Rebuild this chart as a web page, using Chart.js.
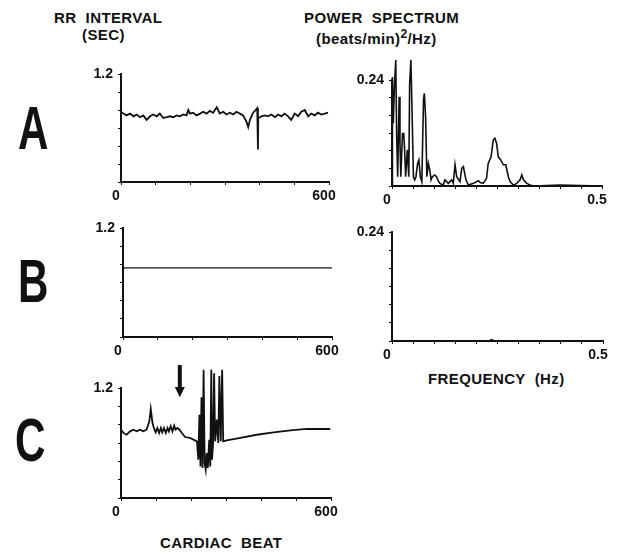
<!DOCTYPE html>
<html lang="en">
<head>
    <meta charset="UTF-8">
    <title>RR interval and power spectrum</title>
    <script src="https://cdn.jsdelivr.net/npm/chart.js"></script>
    <style>
        body {
            margin: 0;
            width: 622px;
            height: 553px;
            background: #fff;
            position: relative;
            overflow: hidden;
            font-family: "Liberation Sans", Arial, sans-serif;
            font-weight: bold;
            color: #111;
        }
        .box { position: absolute; }
        .txt { position: absolute; font-size: 15px; letter-spacing: 0.4px; white-space: pre; }
        .big {
            position: absolute;
            font-family: "Liberation Sans", Arial, sans-serif;
            font-size: 62px;
            line-height: 1;
            font-weight: bold;
            transform: scaleX(0.68);
            transform-origin: left top;
        }
    </style>
</head>
<body>
    <div class="txt" style="left:54px; top:9px;">RR  INTERVAL</div>
    <div class="txt" style="left:82px; top:26px;">(SEC)</div>
    <div class="txt" style="left:304px; top:9px;">POWER  SPECTRUM</div>
    <div class="txt" style="left:316px; top:27px;">(beats/min)<sup style="font-size:12px">2</sup>/Hz)</div>
    <div class="txt" style="left:428px; top:370px;">FREQUENCY  (Hz)</div>
    <div class="txt" style="left:160px; top:534px;">CARDIAC  BEAT</div>

    <div class="big" style="left:18px; top:97px;">A</div>
    <div class="big" style="left:18px; top:250px;">B</div>
    <div class="big" style="left:15px; top:409px;">C</div>

    <div class="box" id="boxAL"><canvas id="aLeft"></canvas></div>
    <div class="box" id="boxAR"><canvas id="aRight"></canvas></div>
    <div class="box" id="boxBL"><canvas id="bLeft"></canvas></div>
    <div class="box" id="boxBR"><canvas id="bRight"></canvas></div>
    <div class="box" id="boxCL"><canvas id="cLeft"></canvas></div>

    <script>
        // --- data ---
        // A: RR interval (sec) vs cardiac beat
        const aBeats = [0, 7, 16, 26, 36, 45, 55, 64, 74, 84, 93, 103, 112, 122, 132, 141, 151, 160, 170, 180,
            189, 194, 199, 208, 218, 228, 237, 247, 256, 266, 276, 280, 285, 295, 304, 314, 324, 333, 343, 352,
            362, 367, 372, 381, 389, 393, 395, 396, 405, 415, 424, 434, 444, 453, 463, 472, 482, 491, 501, 511,
            520, 530, 540, 549, 559, 568, 578, 588, 597];
        const aRR = [0.78, 0.76, 0.74, 0.76, 0.73, 0.75, 0.72, 0.74, 0.69, 0.73, 0.75, 0.73, 0.76, 0.71, 0.72, 0.73, 0.72, 0.74, 0.73, 0.75,
            0.74, 0.80, 0.76, 0.77, 0.74, 0.76, 0.78, 0.76, 0.79, 0.77, 0.83, 0.80, 0.76, 0.78, 0.75, 0.77, 0.75, 0.78, 0.76, 0.74,
            0.67, 0.61, 0.69, 0.77, 0.80, 0.82, 0.36, 0.71, 0.73, 0.74, 0.73, 0.75, 0.72, 0.75, 0.73, 0.76, 0.73, 0.69, 0.76, 0.73,
            0.78, 0.80, 0.73, 0.76, 0.74, 0.77, 0.75, 0.76, 0.77];

        // A: power spectrum
        const aFreq = [0, 0.001, 0.003, 0.006, 0.009, 0.011, 0.0135, 0.017, 0.019, 0.021, 0.025, 0.028, 0.030, 0.0325, 0.0365, 0.040,
            0.042, 0.045, 0.048, 0.051, 0.054, 0.057, 0.061, 0.064, 0.0675, 0.071, 0.075, 0.077, 0.080, 0.083, 0.0865, 0.090, 0.093,
            0.096, 0.102, 0.106, 0.111, 0.114, 0.122, 0.126, 0.130, 0.134, 0.138, 0.142, 0.146, 0.150, 0.154, 0.162, 0.166, 0.170,
            0.176, 0.182, 0.194, 0.206, 0.210, 0.217, 0.225, 0.229, 0.236, 0.241, 0.245, 0.249, 0.253, 0.259, 0.265, 0.271, 0.277,
            0.281, 0.289, 0.297, 0.305, 0.309, 0.313, 0.321, 0.329, 0.337, 0.40, 0.45, 0.5];
        const aPow = [0, 0.247, 0.142, 0.232, 0.285, 0.119, 0.021, 0.202, 0.097, 0.021, 0.119, 0.119, 0.082, 0.021, 0.082, 0.021,
            0.232, 0.285, 0.157, 0.021, 0.014, 0.021, 0.051, 0.059, 0.021, 0.010, 0.195, 0.210, 0.157, 0.021, 0.051, 0.036, 0.014,
            0.021, 0.025, 0.021, 0.010, 0.006, 0.002, 0.014, 0.010, 0.006, 0.010, 0.014, 0.006, 0.048, 0.021, 0.010, 0.040, 0.044,
            0.014, 0.002, 0.006, 0.012, 0.008, 0.006, 0.017, 0.051, 0.066, 0.104, 0.108, 0.097, 0.066, 0.059, 0.048, 0.048, 0.021,
            0.010, 0.002, 0.006, 0.014, 0.025, 0.014, 0.006, 0.002, 0, 0.002, 0.001, 0];

        // B: flat RR interval, empty spectrum
        const bBeats = [0, 600];
        const bRR = [0.76, 0.76];
        const bFreq = [0, 0.230, 0.236, 0.242, 0.5];
        const bPow = [0, 0, 0.003, 0, 0];

        // C: RR interval with arrhythmic burst
        const cBeats = [0, 7, 16, 26, 35, 45, 54, 64, 73, 81, 85, 90, 94, 99, 104, 109, 114, 118, 123, 128, 133, 137, 142, 147,
            152, 156, 161, 167, 174, 183, 197, 217, 221, 224, 227, 230, 233, 236, 239, 242, 245, 248, 252, 255, 258, 260, 263,
            266, 269, 274, 278, 281, 285, 289, 292, 302, 341, 388, 436, 484, 531, 598];
        const cRR = [0.745, 0.71, 0.69, 0.727, 0.745, 0.727, 0.745, 0.727, 0.745, 0.836, 0.971, 0.818, 0.764, 0.716, 0.764, 0.709,
            0.764, 0.716, 0.764, 0.709, 0.764, 0.727, 0.782, 0.727, 0.789, 0.745, 0.764, 0.745, 0.709, 0.665, 0.655, 0.618, 0.418,
            0.909, 0.345, 1.10, 0.327, 1.40, 0.38, 0.309, 0.49, 0.327, 0.636, 0.345, 1.40, 0.418, 0.58, 1.36, 0.618, 0.855, 0.60,
            1.33, 0.618, 1.40, 0.618, 0.629, 0.655, 0.69, 0.716, 0.738, 0.753, 0.753];
        const arrowBeat = 168;

        // --- drawing ---
        const ink = "#111";
        const tickFont = { family: "'Liberation Sans', Arial, sans-serif", size: 14, weight: "bold" };

        function place(id, area) {
            const el = document.getElementById(id);
            el.style.left = (area[0] - 50) + "px";
            el.style.top = (area[1] - 30) + "px";
            el.style.width = (area[2] - area[0] + 75) + "px";
            el.style.height = (area[3] - area[1] + 60) + "px";
        }

        const arrowPlugin = {
            id: "arrow",
            afterDatasetsDraw(chart, args, opts) {
                if (!opts.beat) return;
                const c = chart.ctx;
                const x = chart.scales.x.getPixelForValue(opts.beat);
                const yTop = chart.scales.y.getPixelForValue(1.45);
                const yMid = chart.scales.y.getPixelForValue(1.21);
                const yTip = chart.scales.y.getPixelForValue(1.1);
                c.save();
                c.fillStyle = ink;
                c.fillRect(x - 2, yTop, 4, yMid - yTop);
                c.beginPath();
                c.moveTo(x - 5, yMid);
                c.lineTo(x + 5, yMid);
                c.lineTo(x, yTip);
                c.closePath();
                c.fill();
                c.restore();
            }
        };

        function drawPanel(canvasId, xs, ys, xMax, xStep, xEnd, yMax, yStep, yTop, width, arrow) {
            new Chart(document.getElementById(canvasId), {
                type: "line",
                data: {
                    datasets: [{
                        data: xs.map((x, i) => ({ x: x, y: ys[i] })),
                        borderColor: ink,
                        borderWidth: width,
                        pointRadius: 0,
                        tension: 0,
                        clip: false
                    }]
                },
                options: {
                    responsive: true,
                    maintainAspectRatio: false,
                    animation: false,
                    layout: { padding: { top: 30, right: 25, left: 0, bottom: 0 } },
                    plugins: {
                        legend: { display: false },
                        tooltip: { enabled: false },
                        arrow: { beat: arrow }
                    },
                    scales: {
                        x: {
                            type: "linear", min: 0, max: xMax,
                            afterFit: s => { s.height = 30; },
                            grid: { drawOnChartArea: false, tickLength: 3, color: ink },
                            border: { color: ink, width: 2 },
                            ticks: {
                                stepSize: xStep, color: ink, font: tickFont, padding: 3, maxRotation: 0, autoSkip: false,
                                labelOffset: -5,
                                callback: v => v === 0 ? "0" : (Math.abs(v - xMax) < 1e-9 ? xEnd : "")
                            }
                        },
                        y: {
                            min: 0, max: yMax,
                            afterFit: s => { s.width = 50; },
                            grid: { drawOnChartArea: false, tickLength: 3, color: ink },
                            border: { color: ink, width: 2 },
                            ticks: {
                                stepSize: yStep, color: ink, font: tickFont, padding: 5, autoSkip: false,
                                callback: v => Math.abs(v - yMax) < 1e-9 ? yTop : ""
                            }
                        }
                    }
                },
                plugins: [arrowPlugin]
            });
        }

        // chart areas: [left, top, right, bottom]
        place("boxAL", [121, 74, 329, 182]);
        place("boxAR", [392, 80, 602, 186]);
        place("boxBL", [123, 228, 332, 337]);
        place("boxBR", [392, 232, 603, 341]);
        place("boxCL", [121, 388, 331, 498]);

        drawPanel("aLeft", aBeats, aRR, 600, 100, "600", 1.2, 0.2, "1.2", 1.8);
        drawPanel("aRight", aFreq, aPow, 0.5, 0.05, "0.5", 0.24, 0.04, "0.24", 1.6);
        drawPanel("bLeft", bBeats, bRR, 600, 100, "600", 1.2, 0.2, "1.2", 1.3);
        drawPanel("bRight", bFreq, bPow, 0.5, 0.05, "0.5", 0.24, 0.04, "0.24", 1.6);
        drawPanel("cLeft", cBeats, cRR, 600, 100, "600", 1.2, 0.2, "1.2", 1.8, arrowBeat);
    </script>
</body>
</html>
